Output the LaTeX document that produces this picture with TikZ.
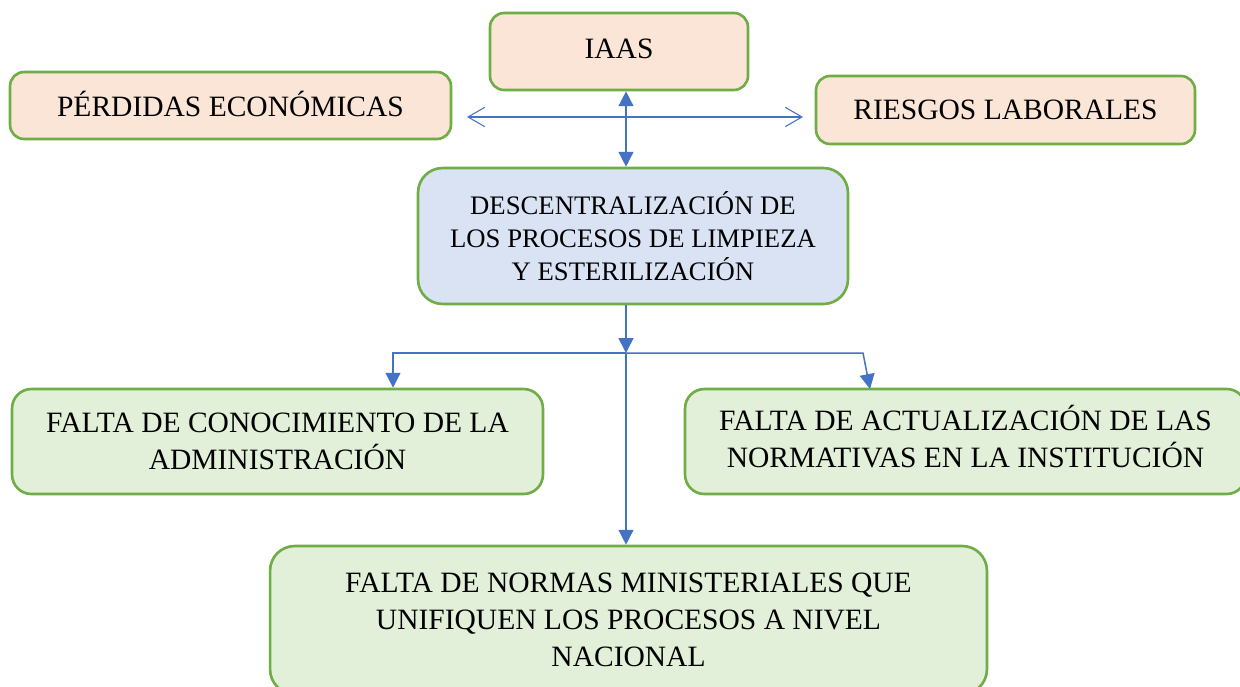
\documentclass[tikz,border=0pt]{standalone}
\usepackage{fontspec}
\setmainfont{Liberation Serif}
\usetikzlibrary{arrows.meta}
\definecolor{bord}{HTML}{70AD47}
\definecolor{peach}{HTML}{FBE5D6}
\definecolor{lblue}{HTML}{DAE3F3}
\definecolor{lgreen}{HTML}{E2F0D9}
\definecolor{arr}{HTML}{4472C4}
\tikzset{
  box/.style={draw=bord, line width=1.5pt, inner sep=0pt, align=center, font=\fontsize{16.8}{21}\selectfont},
  conn/.style={draw=arr, line width=0.85pt},
  tri/.style={-{Triangle[length=8.5pt,width=8.5pt]}},
  hdbl/.style={draw=arr, line width=0.6pt, {Straight Barb[length=9.5pt,width=11pt]}-{Straight Barb[length=9.5pt,width=11pt]}}
}
\begin{document}
\begin{tikzpicture}[x=0.02cm,y=-0.02cm]
\useasboundingbox (0,0) rectangle (1240,686);
\node[box, fill=peach, rounded corners=8pt, minimum width=5.16cm, minimum height=1.54cm] (iaas) at (619,51.5) {\raisebox{3pt}{IAAS}};
\node[box, fill=peach, rounded corners=8pt, minimum width=8.82cm, minimum height=1.34cm] (perd) at (230.5,105.5) {\raisebox{2pt}{PÉRDIDAS ECONÓMICAS}};
\node[box, fill=peach, rounded corners=8pt, minimum width=7.58cm, minimum height=1.36cm] (ries) at (1005.5,110) {RIESGOS LABORALES};
\node[box, fill=lblue, rounded corners=14pt, minimum width=8.6cm, minimum height=2.72cm, font=\fontsize{15.2}{18.7}\selectfont] (desc) at (633,236) {DESCENTRALIZACIÓN DE\\LOS PROCESOS DE LIMPIEZA\\Y ESTERILIZACIÓN};
\node[box, fill=lgreen, rounded corners=11pt, minimum width=10.62cm, minimum height=2.1cm] (conoc) at (277.5,441.5) {FALTA DE CONOCIMIENTO DE LA\\ADMINISTRACIÓN};
\node[box, fill=lgreen, rounded corners=11pt, minimum width=11.22cm, minimum height=2.1cm] (actual) at (965.5,441.5) {\raisebox{-1.7pt}{\begin{tabular}{@{}c@{}}FALTA DE ACTUALIZACIÓN DE LAS\\NORMATIVAS EN LA INSTITUCIÓN\end{tabular}}};
\node[box, fill=lgreen, rounded corners=14pt, minimum width=14.34cm, minimum height=2.96cm] (normas) at (628.5,620) {FALTA DE NORMAS MINISTERIALES QUE\\UNIFIQUEN LOS PROCESOS A NIVEL\\NACIONAL};
\coordinate (hl) at (467,117);
\coordinate (hr) at (803,117);
\coordinate (j) at (626,353);
\coordinate (jl) at (393,353);
\coordinate (jr) at (863,353);
\coordinate (rt) at (870,389);
\draw[hdbl] (hl) -- (hr);
\draw[conn, {Triangle[length=8.5pt,width=8.5pt]}-{Triangle[length=8.5pt,width=8.5pt]}] (iaas.south -| j) -- (desc.north -| j);
\draw[conn, tri] (desc.south -| j) -- (j);
\draw[conn, tri] (j) -- (jl) -- (conoc.north -| jl);
\draw[conn, tri] (j) -- (jr) -- (rt);
\draw[conn, tri] (j) -- (normas.north -| j);
\end{tikzpicture}
\end{document}
